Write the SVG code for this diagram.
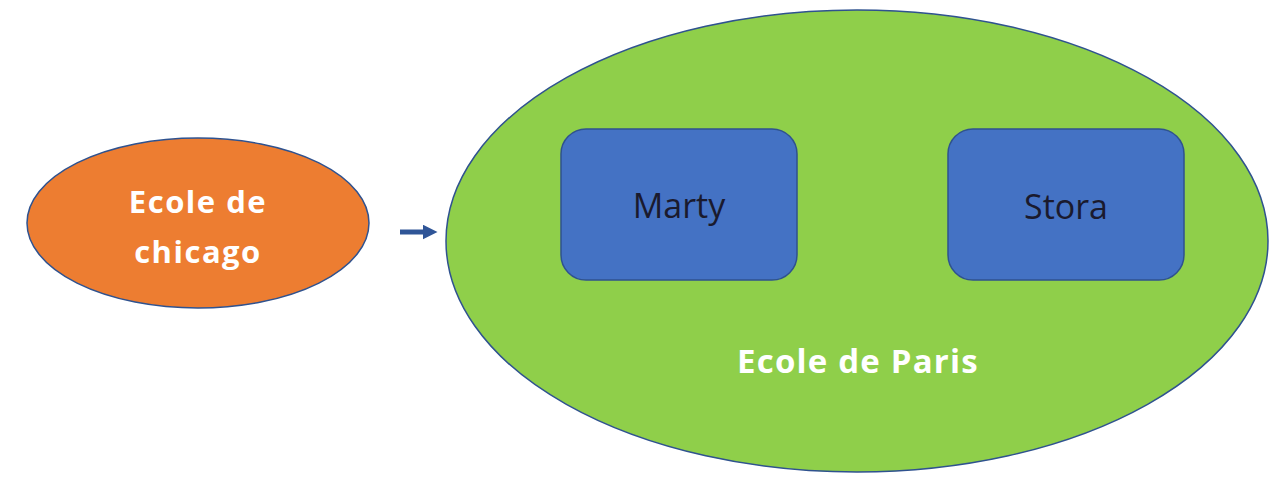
<svg xmlns="http://www.w3.org/2000/svg" width="1278" height="477" viewBox="0 0 1278 477">
<style>
.lbl{font-family:"Open Sans","Liberation Sans",sans-serif;text-anchor:middle}
.w{fill:#ffffff;font-weight:bold}
.k{fill:#1a1a2e;font-size:34px}
.box{fill:#4472C4;stroke:#2F528F;stroke-width:1.5}
</style>
<defs>
<marker id="ah" markerWidth="3" markerHeight="3" refX="1.5" refY="1.5" orient="auto" markerUnits="strokeWidth">
<path d="M0,0 L3,1.5 L0,3 z" fill="#2F5597"/>
</marker>
</defs>
<rect width="1278" height="477" fill="#ffffff"/>
<g id="chicago">
<ellipse cx="198" cy="223" rx="171" ry="85" fill="#ED7D31" stroke="#2F528F" stroke-width="1.5"/>
<text class="lbl w" x="198" y="213" font-size="31" letter-spacing="1.5">Ecole de</text>
<text class="lbl w" x="198" y="263" font-size="31" letter-spacing="1.5">chicago</text>
</g>
<g id="paris">
<ellipse cx="857" cy="241" rx="411" ry="231" fill="#8FCF4A" stroke="#2F528F" stroke-width="1.5"/>
<text class="lbl w" x="858" y="373" font-size="33" letter-spacing="1.2">Ecole de Paris</text>
</g>
<g id="marty">
<rect class="box" x="561" y="129" width="236" height="151" rx="25"/>
<text class="lbl k" x="679" y="218">Marty</text>
</g>
<g id="stora">
<rect class="box" x="948" y="129" width="236" height="151" rx="25"/>
<text class="lbl k" x="1066" y="219">Stora</text>
</g>
<g id="connectors">
<line x1="400" y1="232" x2="430" y2="232" stroke="#2F5597" stroke-width="5" marker-end="url(#ah)"/>
</g>
</svg>
